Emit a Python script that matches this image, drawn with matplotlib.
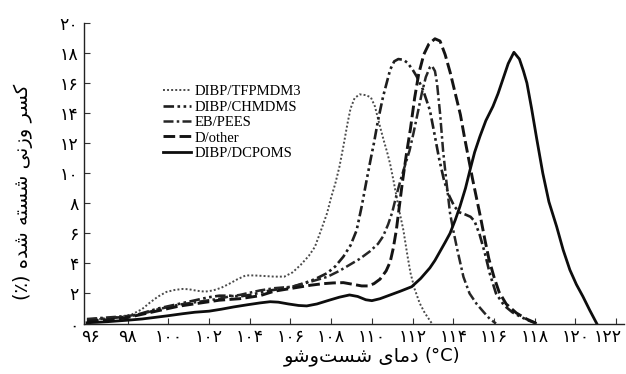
import matplotlib
matplotlib.use("Agg")
import matplotlib.pyplot as plt
import matplotlib.transforms as mtransforms

# ---------------- data ----------------
tfp_x = [96.0, 96.5, 97.0, 97.6, 98.2, 98.7, 99.1, 99.5, 99.9, 100.3, 100.7, 101.0, 101.4, 101.8,
         102.2, 102.6, 103.0, 103.4, 103.8, 104.2, 104.6, 105.2, 105.7, 106.1, 106.5, 106.9, 107.2,
         107.5, 107.8, 108.0, 108.2, 108.4, 108.6, 108.8, 108.95, 109.15, 109.4, 109.7, 109.95,
         110.15, 110.4, 110.6, 110.75, 110.9, 111.05, 111.3, 111.55, 111.75, 111.9, 112.1, 112.35,
         112.6, 112.95]
tfp_y = [0.2, 0.28, 0.35, 0.45, 0.6, 0.95, 1.4, 1.8, 2.1, 2.23, 2.3, 2.28, 2.18, 2.12,
         2.2, 2.38, 2.65, 2.95, 3.2, 3.2, 3.17, 3.12, 3.12, 3.4, 3.9, 4.5, 5.1,
         6.2, 7.35, 8.4, 9.3, 10.4, 11.8, 13.3, 14.3, 15.0, 15.25, 15.2, 15.05,
         14.45, 13.1, 12.1, 11.4, 10.6, 9.6, 7.8, 6.2, 4.5, 3.35, 2.3, 1.35,
         0.7, 0.0]

chm_x = [96.0, 96.5, 97.0, 97.5, 98.0, 98.5, 99.0, 99.5, 100.0, 100.5, 101.0, 101.5, 102.0, 102.5,
         103.0, 103.5, 104.0, 104.5, 105.0, 105.5, 106.1, 106.7, 107.2, 107.8, 108.2, 108.6, 108.95,
         109.25, 109.5, 109.75, 109.95, 110.1, 110.3, 110.55, 110.9, 111.1, 111.3, 111.55, 111.75,
         112.0, 112.2, 112.5, 112.7, 112.85, 113.05, 113.3, 113.55, 113.8, 114.05, 114.3, 114.6,
         114.85, 115.05, 115.3, 115.55, 115.8, 116.1, 116.5, 116.9, 117.3, 117.7, 118.1]
chm_y = [0.25, 0.3, 0.35, 0.4, 0.45, 0.6, 0.8, 1.0, 1.15, 1.3, 1.45, 1.6, 1.75, 1.85,
         1.85, 1.8, 1.9, 2.05, 2.2, 2.3, 2.45, 2.7, 2.95, 3.35, 3.8, 4.45, 5.2,
         6.2, 7.8, 9.6, 11.0, 12.0, 13.5, 15.1, 16.9, 17.45, 17.6, 17.55, 17.35,
         16.9, 16.45, 15.6, 14.8, 14.2, 12.8, 11.0, 9.5, 8.5, 7.8, 7.4, 7.25,
         7.1, 6.8, 5.9, 4.7, 3.3, 2.0, 1.2, 0.75, 0.45, 0.2, 0.0]

eb_x = [96.0, 96.5, 97.0, 97.5, 98.0, 98.5, 99.0, 99.5, 100.0, 100.5, 101.0, 101.5, 102.0, 102.5,
        103.0, 103.5, 104.0, 104.5, 105.2, 106.1, 106.9, 107.8, 108.4, 108.9, 109.4, 109.9, 110.3,
        110.55, 110.8, 111.0, 111.2, 111.4, 111.6, 111.85, 112.05, 112.25, 112.45, 112.65, 112.85,
        112.95, 113.1, 113.2, 113.35, 113.5, 113.65, 113.84, 114.0, 114.2, 114.5, 114.8, 115.15,
        115.5, 115.8, 116.1]
eb_y = [0.3, 0.35, 0.4, 0.45, 0.5, 0.6, 0.75, 0.95, 1.1, 1.25, 1.35, 1.45, 1.55, 1.65,
        1.8, 1.9, 2.05, 2.2, 2.35, 2.45, 2.75, 3.1, 3.5, 3.9, 4.3, 4.8, 5.3,
        5.8, 6.6, 7.4, 8.5, 9.5, 10.4, 11.5, 12.7, 14.0, 15.3, 16.4, 17.05,
        17.15, 16.8, 16.0, 14.0, 11.5, 9.6, 7.35, 6.2, 4.9, 3.1, 2.0, 1.3,
        0.75, 0.3, 0.0]

dot_x = [96.0, 96.5, 97.0, 97.5, 98.0, 98.5, 99.0, 99.5, 100.0, 100.5, 101.0, 101.5, 102.0, 102.5,
         103.0, 103.5, 104.0, 104.5, 105.2, 106.1, 107.0, 107.6, 108.1, 108.6, 109.1, 109.5, 109.8,
         110.1, 110.4, 110.7, 110.9, 111.05, 111.2, 111.35, 111.5, 111.7, 111.9, 112.1, 112.3,
         112.55, 112.8, 113.1, 113.35, 113.6, 113.85, 114.1, 114.35, 114.55, 114.75, 114.95, 115.15,
         115.35, 115.55, 115.75, 116.0, 116.25, 116.6, 117.1, 117.6, 118.1]
dot_y = [0.15, 0.2, 0.25, 0.3, 0.4, 0.55, 0.7, 0.85, 1.0, 1.15, 1.25, 1.35, 1.45, 1.55,
         1.6, 1.65, 1.75, 1.85, 2.15, 2.35, 2.55, 2.65, 2.7, 2.72, 2.6, 2.5, 2.5,
         2.65, 2.95, 3.5, 4.1, 5.0, 6.2, 7.8, 9.4, 11.3, 13.0, 15.0, 16.6,
         17.9, 18.6, 18.95, 18.8, 17.9, 16.7, 15.3, 13.9, 12.4, 11.0, 9.6, 8.3,
         7.0, 5.6, 4.3, 3.1, 2.1, 1.3, 0.7, 0.3, 0.0]

dcp_x = [96.0, 96.5, 97.0, 97.5, 98.0, 98.7, 99.3, 100.0, 100.7, 101.3, 102.0, 102.6, 103.2, 103.9,
         104.5, 105.0, 105.4, 105.9, 106.4, 106.8, 107.3, 107.9, 108.4, 108.9, 109.3, 109.7, 110.0,
         110.4, 110.9, 111.4, 111.96, 112.4, 112.85, 113.1, 113.35, 113.6, 113.84, 114.1, 114.33,
         114.6, 114.82, 115.05, 115.31, 115.6, 115.95, 116.2, 116.45, 116.7, 116.98, 117.25, 117.45,
         117.62, 117.85, 118.1, 118.4, 118.7, 119.08, 119.4, 119.73, 120.05, 120.37, 120.7, 121.05]
dcp_y = [0.05, 0.08, 0.12, 0.17, 0.22, 0.3, 0.4, 0.52, 0.65, 0.75, 0.82, 0.95, 1.1, 1.25,
         1.37, 1.45, 1.42, 1.3, 1.2, 1.17, 1.3, 1.55, 1.75, 1.9, 1.8, 1.58, 1.52,
         1.65, 1.9, 2.15, 2.45, 3.0, 3.7, 4.2, 4.8, 5.4, 6.0, 6.9, 7.8,
         9.0, 10.2, 11.4, 12.45, 13.5, 14.45, 15.3, 16.3, 17.3, 18.05, 17.6, 16.8,
         16.0, 14.3, 12.3, 10.0, 8.1, 6.45, 4.9, 3.57, 2.6, 1.8, 0.9, 0.0]

series_labels = ["DIBP/TFPMDM3", "DIBP/CHMDMS", "EB/PEES", "D/other", "DIBP/DCPOMS"]
x_ticks = list(range(96, 123, 2))
y_ticks = list(range(0, 21, 2))

# Persian text, pre-shaped (presentation forms, visual order)
ylabel_text = "(\u066A) \uFEE9\uFEAA\uFEB7 \uFEEA\uFE98\uFEB4\uFEB7 \uFBFD\uFEE7\uFEAF\uFEED \uFEAE\uFEB4\uFB90"
xlabel_fa = "\uFEEE\uFEB7\uFEED\uFE96\uFEB4\uFEB7 \uFBFC\uFE8E\uFEE3\uFEA9"
xlabel_unit = "(\u00B0C)"

PERSIAN = str.maketrans("0123456789", "\u06F0\u06F1\u06F2\u06F3\u06F4\u06F5\u06F6\u06F7\u06F8\u06F9")
def fa(n):
    return str(n).translate(PERSIAN)

# ---------------- figure ----------------
W, H = 626, 374
fig = plt.figure(figsize=(W / 100, H / 100), dpi=100)
ax = fig.add_axes([84 / W, 50.5 / H, 540 / W, 300.5 / H])

styles = [
    dict(color="#4a4a4a", lw=1.4, ls=(0, (1, 1.1))),
    dict(color="#1e1e1e", lw=1.9, ls=(0, (4, 1.3, 1, 1.3, 1, 1.3))),
    dict(color="#262626", lw=1.8, ls=(0, (4, 1.3, 1, 1.3))),
    dict(color="#141414", lw=2.1, ls=(0, (4, 1.5))),
    dict(color="#0d0d0d", lw=2.0, ls="-"),
]
data = [(tfp_x, tfp_y), (chm_x, chm_y), (eb_x, eb_y), (dot_x, dot_y), (dcp_x, dcp_y)]
for (xs, ys), st, lab in zip(data, styles, series_labels):
    ax.plot(xs, ys, label=lab, **st)

ax.set_xlim(95.853, 122.39)
ax.set_ylim(0, 20)
for s in ["top", "right"]:
    ax.spines[s].set_visible(False)
for s in ["left", "bottom"]:
    ax.spines[s].set_linewidth(1.0)
    ax.spines[s].set_color("#222222")

ax.set_xticks(x_ticks)
ax.set_xticklabels([fa(v) for v in x_ticks], fontsize=12.5, family=["DejaVu Sans"])
ax.set_yticks(y_ticks)
ax.set_yticklabels([fa(v) for v in y_ticks], fontsize=12.5, family=["DejaVu Sans"])
ax.tick_params(axis="both", direction="in", length=4, width=0.8, color="#333333")
ax.tick_params(axis="x", pad=3)
ax.tick_params(axis="y", pad=4)

# nudge the edge x tick labels so they stay on the canvas (as in the reference)
last = ax.get_xticklabels()[-1]
last.set_transform(last.get_transform() + mtransforms.ScaledTranslation(-8 / 100, 0, fig.dpi_scale_trans))
first = ax.get_xticklabels()[0]
first.set_transform(first.get_transform() + mtransforms.ScaledTranslation(4 / 100, 0, fig.dpi_scale_trans))

leg = ax.legend(loc="upper left", bbox_to_anchor=(0.128, 0.827), frameon=False,
                prop={"family": "Liberation Serif", "size": 10.5},
                handlelength=1.9, handletextpad=0.25, labelspacing=0.15, borderpad=0.2)

fig.text(23 / W, 1 - 192 / H, ylabel_text, rotation=90, ha="center", va="center",
         fontsize=14, family=["DejaVu Sans"])
fig.text(419 / W, 1 - 356 / H, xlabel_fa, ha="right", va="center",
         fontsize=14, family=["DejaVu Sans"])
fig.text(424 / W, 1 - 356 / H, xlabel_unit, ha="left", va="center",
         fontsize=13, family=["DejaVu Sans"])

fig.savefig("out.png", dpi=100)
